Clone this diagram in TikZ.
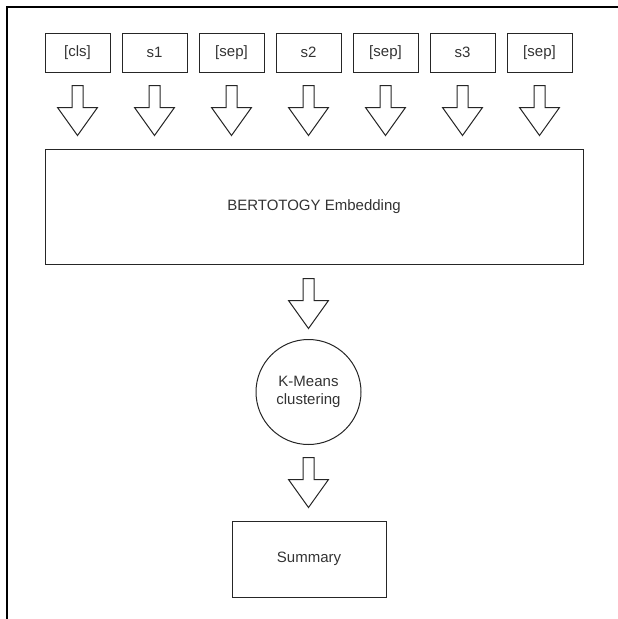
\documentclass[tikz,border=0pt]{standalone}
\usepackage{fontspec}
\setmainfont{Liberation Sans}
\usetikzlibrary{calc}

\tikzset{
    box/.style={draw=black!85, line width=1pt, inner sep=0pt, text=black!80,
        font=\fontsize{15}{18}\selectfont, align=center},
    token/.style={box, minimum width=65pt, minimum height=39pt},
    blockarrow/.style={draw=black!85, line width=1pt, fill=white, line join=miter}
}

% hollow down arrow, #1 = top of the shaft
\newcommand{\blockarrow}[1]{%
    \draw[blockarrow] ($#1+(-5.5,0)$) -- ($#1+(-5.5,22)$) -- ($#1+(-20,22)$)
        -- ($#1+(0,50)$) -- ($#1+(20,22)$) -- ($#1+(5.5,22)$) -- ($#1+(5.5,0)$) -- cycle;
}

\begin{document}
\begin{tikzpicture}[x=1pt, y=-1pt]
    \useasboundingbox (0, 0) rectangle (618, 619);

    % Frame (top and left edges)
    \draw[line width=1.5pt] (7, 619) -- (7, 7) -- (618, 7);

    % Input tokens
    \foreach \i/\tok in {0/[cls], 1/s1, 2/[sep], 3/s2, 4/[sep], 5/s3, 6/[sep]} {
        \node[token] (tok\i) at (77.5+77*\i, 52.5) {\tok};
        \blockarrow{(tok\i.south)+(0,13)}
    }

    % Embedding
    \node[box, minimum width=538pt, minimum height=115pt] (embed) at (314, 206.5) {BERTOTOGY Embedding};
    \blockarrow{(embed.south -| 308.5,0)+(0,14)}

    % Clustering
    \node[box, circle, minimum size=105pt] (kmeans) at (308.5, 392) {K-Means\\clustering};
    \blockarrow{(kmeans.south)+(0,12.5)}

    % Output
    \node[box, minimum width=154pt, minimum height=76pt] (summary) at (309, 559) {Summary};
\end{tikzpicture}
\end{document}
